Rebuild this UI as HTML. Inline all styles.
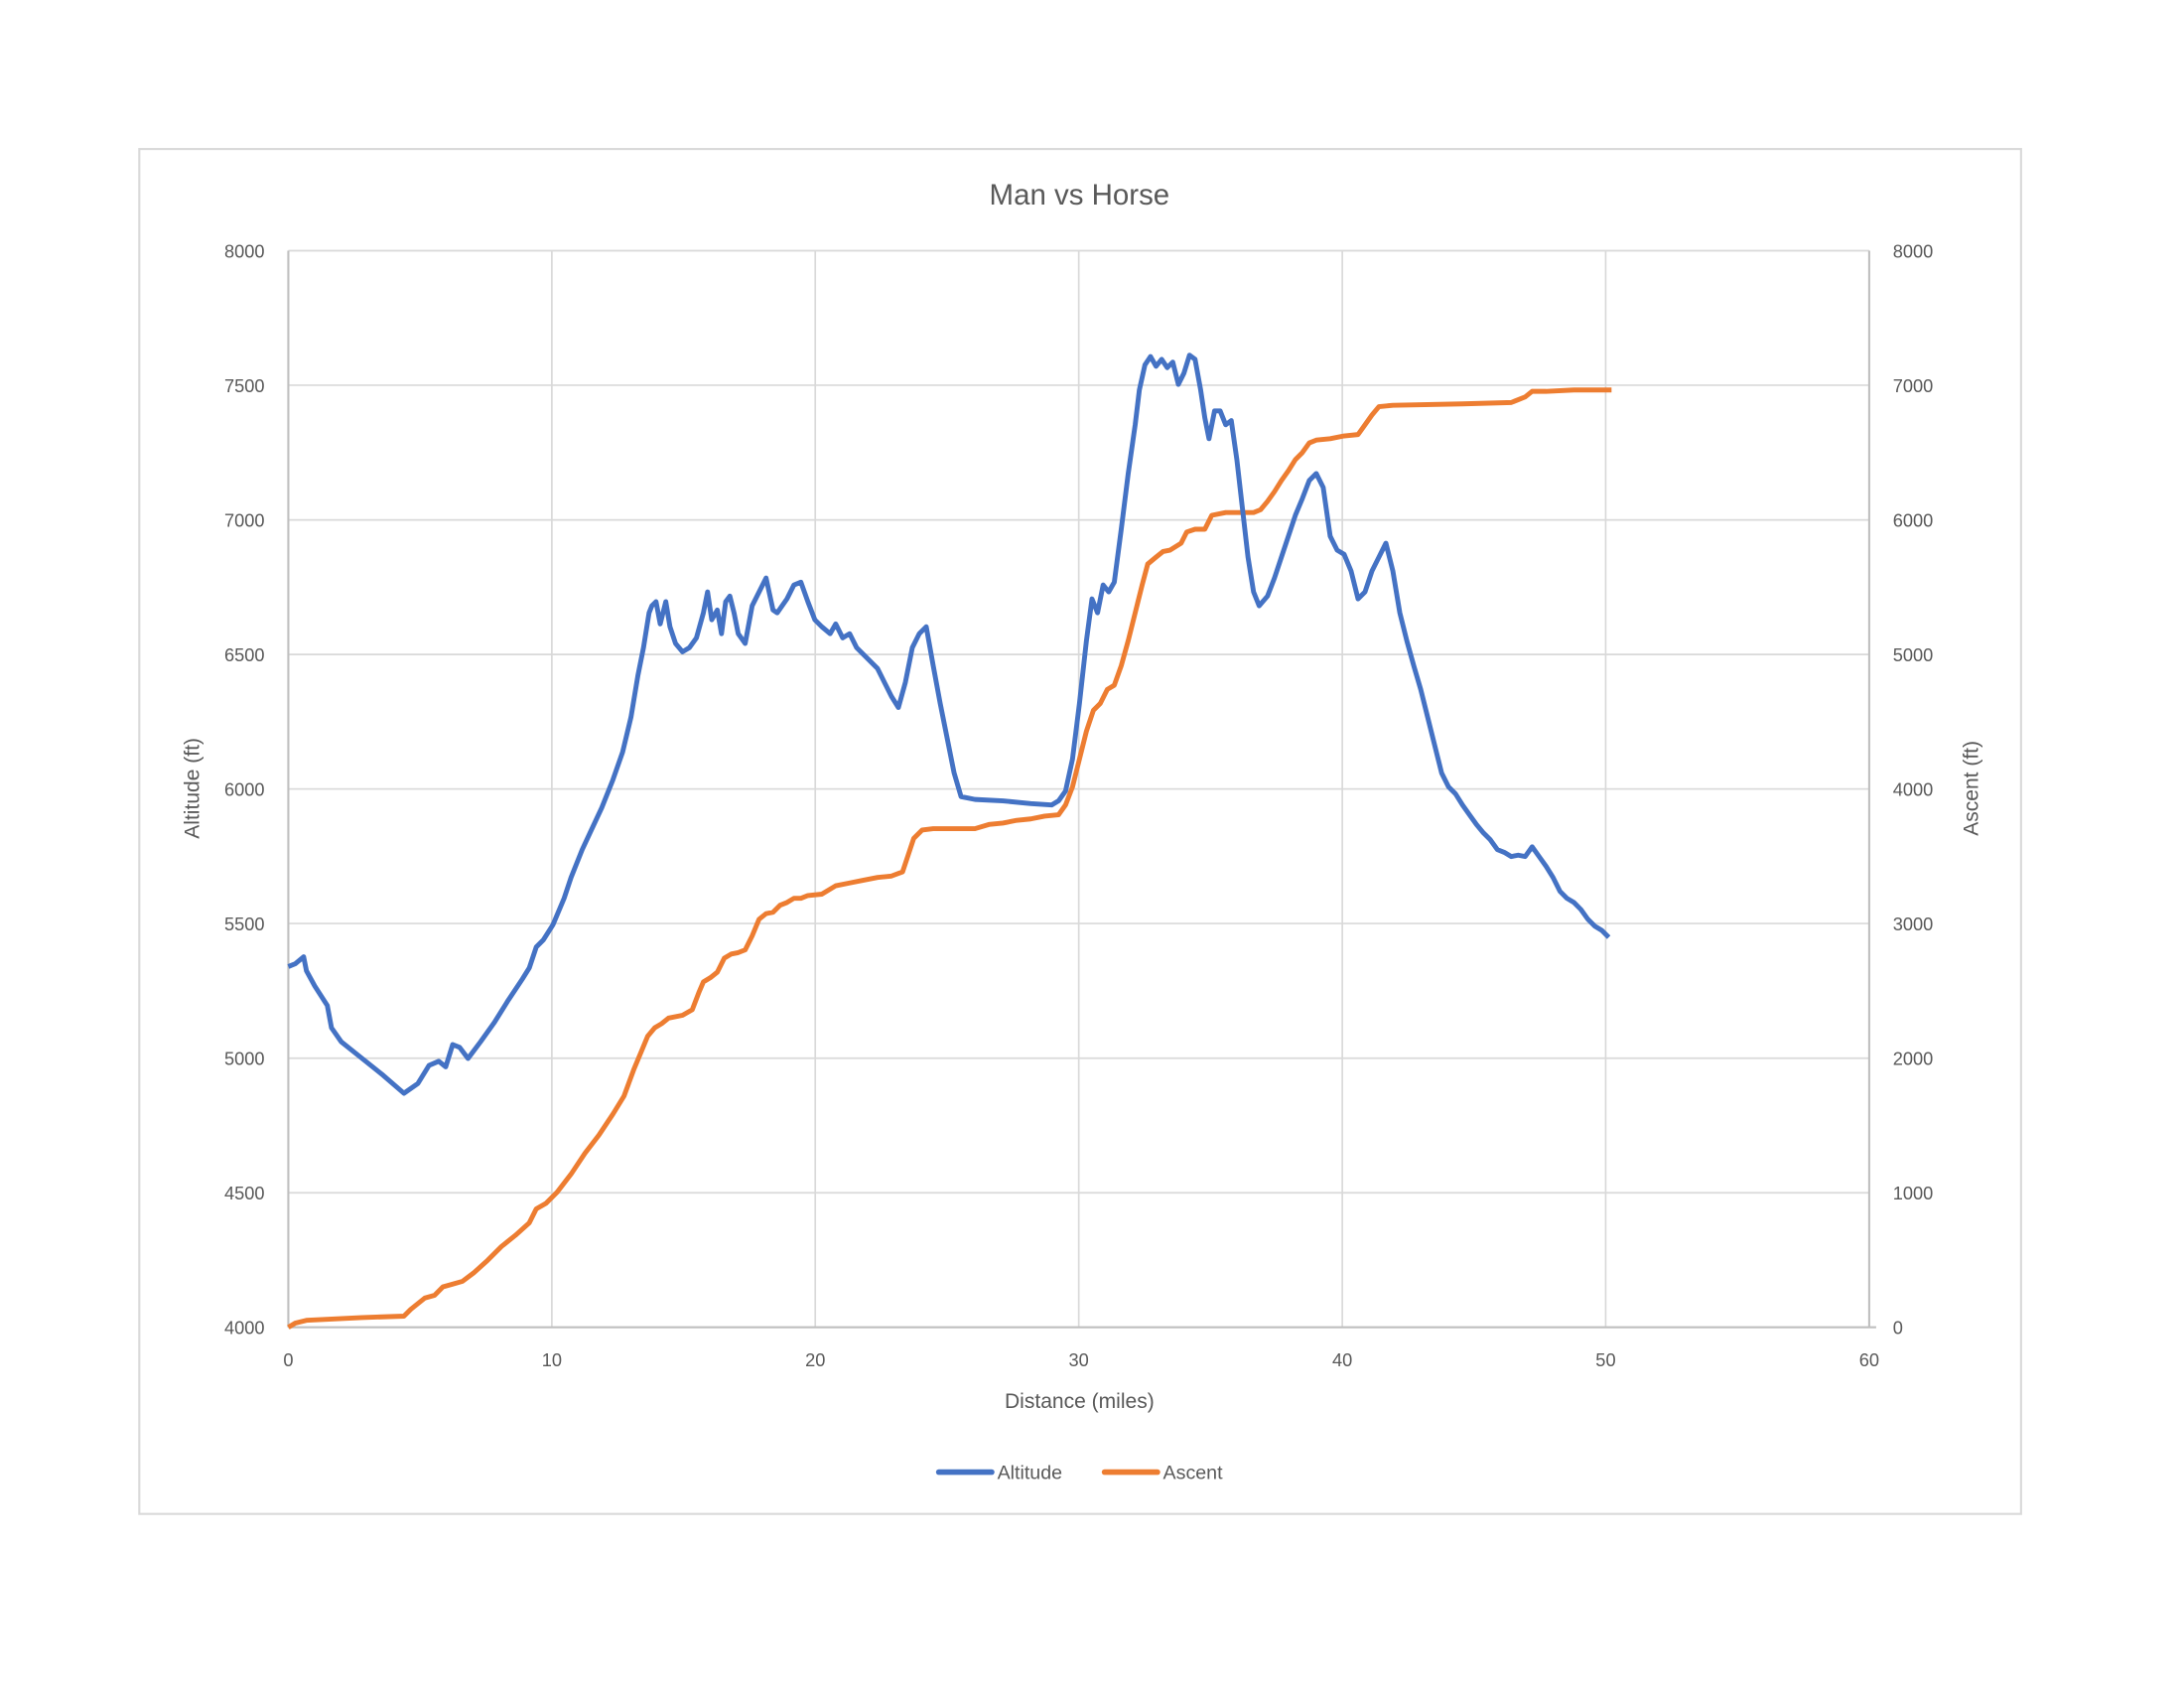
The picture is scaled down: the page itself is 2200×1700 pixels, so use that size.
<!DOCTYPE html>
<html><head><meta charset="utf-8"><style>html,body{margin:0;padding:0;background:#fff}svg{display:block}</style></head>
<body>
<svg width="2200" height="1700" viewBox="0 0 1568 1212" preserveAspectRatio="none" xmlns="http://www.w3.org/2000/svg" font-family="Liberation Sans, sans-serif" fill="#595959">
<rect x="0" y="0" width="1568" height="1212" fill="#fff"/>
<rect x="100" y="107" width="1351" height="980" fill="none" stroke="#d9d9d9" stroke-width="1.5"/>
<g stroke="#d9d9d9" stroke-width="1.2">
<line x1="207" y1="180" x2="1342" y2="180"/><line x1="207" y1="276.6" x2="1342" y2="276.6"/><line x1="207" y1="373.3" x2="1342" y2="373.3"/><line x1="207" y1="469.9" x2="1342" y2="469.9"/><line x1="207" y1="566.5" x2="1342" y2="566.5"/><line x1="207" y1="663.1" x2="1342" y2="663.1"/><line x1="207" y1="759.8" x2="1342" y2="759.8"/><line x1="207" y1="856.4" x2="1342" y2="856.4"/>
<line x1="396.2" y1="180" x2="396.2" y2="953"/><line x1="585.3" y1="180" x2="585.3" y2="953"/><line x1="774.5" y1="180" x2="774.5" y2="953"/><line x1="963.7" y1="180" x2="963.7" y2="953"/><line x1="1152.8" y1="180" x2="1152.8" y2="953"/>
</g>
<g stroke="#bfbfbf" stroke-width="1.5"><line x1="207" y1="180" x2="207" y2="953"/><line x1="1342" y1="180" x2="1342" y2="953"/><line x1="207" y1="953" x2="1347" y2="953"/></g>
<text x="775" y="147" font-size="21" text-anchor="middle">Man vs Horse</text>
<g font-size="13" text-anchor="end">
<text x="190" y="185">8000</text><text x="190" y="281.6">7500</text><text x="190" y="378.3">7000</text><text x="190" y="474.9">6500</text><text x="190" y="571.5">6000</text><text x="190" y="668.1">5500</text><text x="190" y="764.8">5000</text><text x="190" y="861.4">4500</text><text x="190" y="958">4000</text>
</g>
<g font-size="13" text-anchor="start">
<text x="1359" y="185">8000</text><text x="1359" y="281.6">7000</text><text x="1359" y="378.3">6000</text><text x="1359" y="474.9">5000</text><text x="1359" y="571.5">4000</text><text x="1359" y="668.1">3000</text><text x="1359" y="764.8">2000</text><text x="1359" y="861.4">1000</text><text x="1359" y="958">0</text>
</g>
<g font-size="13" text-anchor="middle">
<text x="207" y="981">0</text><text x="396.2" y="981">10</text><text x="585.3" y="981">20</text><text x="774.5" y="981">30</text><text x="963.7" y="981">40</text><text x="1152.8" y="981">50</text><text x="1342" y="981">60</text>
</g>
<text x="775" y="1011" font-size="15" text-anchor="middle">Distance (miles)</text>
<text transform="translate(143,566) rotate(-90)" font-size="15" text-anchor="middle">Altitude (ft)</text>
<text transform="translate(1420,566) rotate(-90)" font-size="15" text-anchor="middle">Ascent (ft)</text>
<polyline fill="none" stroke="#ED7D31" stroke-width="3.5" stroke-linejoin="round" points="207,953 212,950 220,948 240,947 260,946 290,945 295,940 300,936 305,932 312,930 318,924 325,922 332,920 340,914 350,905 360,895 370,887 380,878 385,868 392,864 400,856 410,843 420,828 430,815 440,800 448,787 455,768 460,756 465,744 470,738 475,735 480,731 490,729 497,725 502,712 505,705 510,702 515,698 520,688 525,685 530,684 535,682 540,672 545,660 550,656 555,655 560,650 565,648 570,645 575,645 580,643 590,642 600,636 610,634 620,632 630,630 640,629 648,626 652,614 656,602 662,596 670,595 700,595 710,592 720,591 730,589 740,588 750,586 760,585 765,578 770,565 775,545 780,525 785,510 790,505 795,495 800,492 805,478 810,460 815,440 820,420 824,405 830,400 835,396 840,395 848,390 852,382 858,380 865,380 870,370 880,368 890,368 900,368 905,366 910,360 915,353 920,345 925,338 930,330 935,325 940,318 945,316 955,315 965,313 975,312 980,305 985,298 990,292 1000,291 1050,290 1085,289 1090,287 1095,285 1100,281 1110,281 1130,280 1157,280"/>
<polyline fill="none" stroke="#4472C4" stroke-width="3.5" stroke-linejoin="round" points="207,694 212,692 218,687 220,697 226,708 235,722 238,738 245,748 260,760 275,772 290,785 300,778 308,765 315,762 320,766 325,750 330,752 336,760 345,748 355,734 365,718 375,703 380,695 385,680 390,675 397,664 405,645 410,630 418,610 425,595 432,580 440,560 447,540 453,515 458,485 462,465 466,440 468,435 471,432 474,448 478,432 481,450 485,462 490,468 495,465 500,458 505,440 508,425 511,445 515,438 518,455 521,432 524,428 527,440 530,455 535,462 540,435 545,425 550,415 555,438 558,440 565,430 570,420 575,418 580,432 585,445 590,450 596,455 600,448 605,458 610,455 615,465 620,470 625,475 630,480 635,490 640,500 645,508 650,490 655,465 660,455 665,450 670,478 675,505 680,530 685,555 690,572 700,574 720,575 740,577 755,578 760,575 765,568 770,545 775,505 780,460 784,430 788,440 792,420 796,425 800,418 805,380 810,340 815,305 818,280 822,262 826,256 830,263 834,258 838,264 842,260 846,276 850,268 854,255 858,258 862,280 865,300 868,315 872,295 876,295 880,305 884,302 888,330 892,365 896,400 900,425 904,435 910,428 915,415 920,400 925,385 930,370 935,358 940,345 945,340 950,350 955,385 960,395 965,398 970,410 975,430 980,425 985,410 990,400 995,390 1000,410 1005,440 1010,460 1015,478 1020,495 1025,515 1030,535 1035,555 1040,565 1045,570 1050,578 1055,585 1060,592 1065,598 1070,603 1075,610 1080,612 1085,615 1090,614 1095,615 1100,608 1105,615 1110,622 1115,630 1120,640 1125,645 1130,648 1135,653 1140,660 1145,665 1150,668 1155,673"/>
<line x1="674" y1="1057" x2="712" y2="1057" stroke="#4472C4" stroke-width="4" stroke-linecap="round"/>
<text x="716" y="1062" font-size="14">Altitude</text>
<line x1="793" y1="1057" x2="831" y2="1057" stroke="#ED7D31" stroke-width="4" stroke-linecap="round"/>
<text x="835" y="1062" font-size="14">Ascent</text>
</svg>
</body></html>
